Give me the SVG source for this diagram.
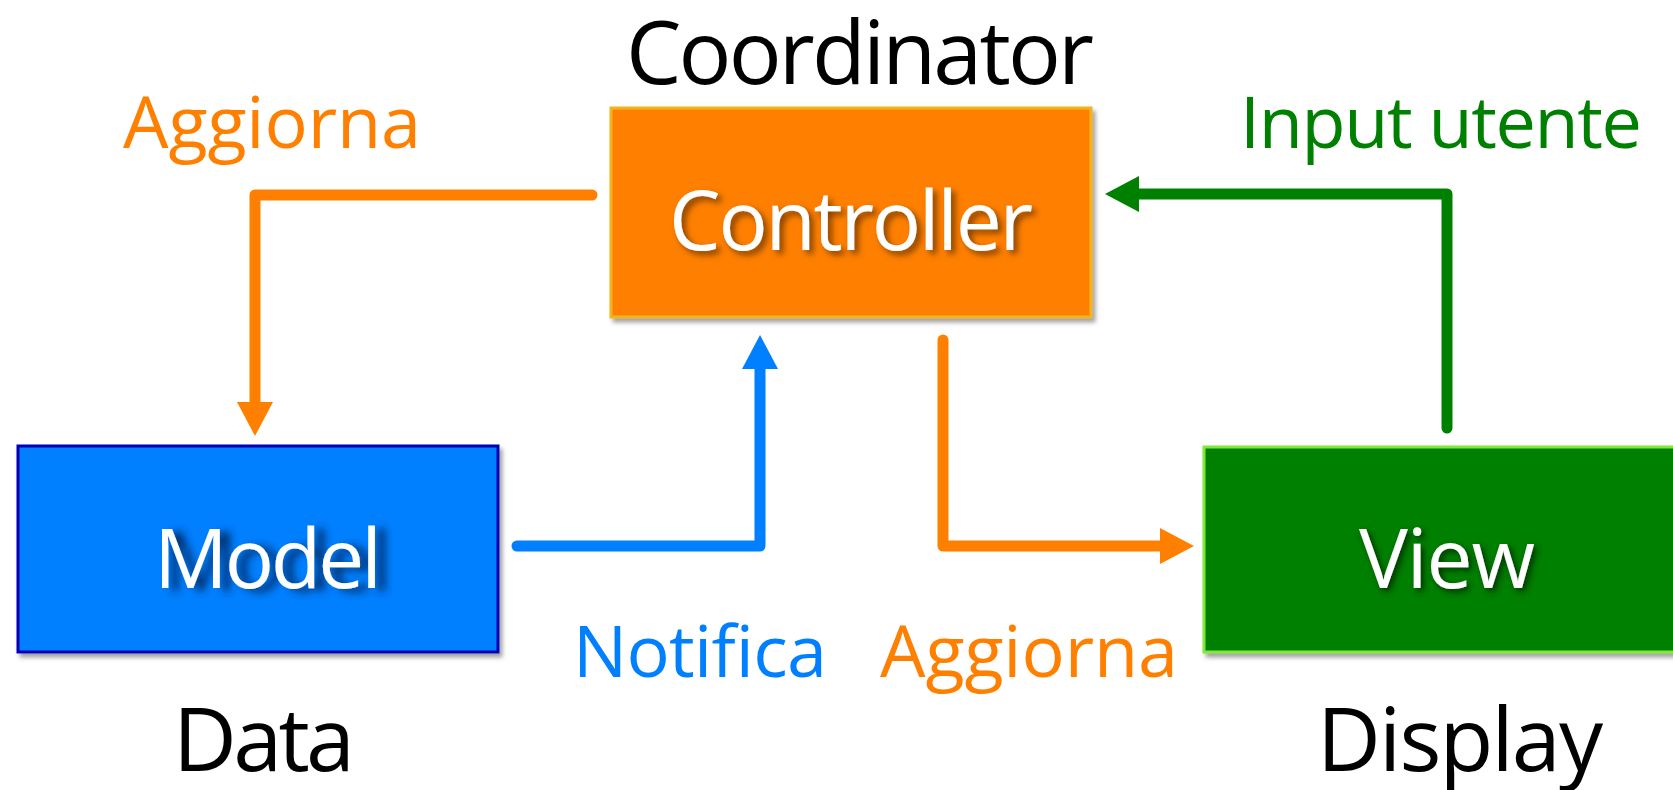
<svg xmlns="http://www.w3.org/2000/svg" width="1673" height="790" viewBox="0 0 1673 790">
  <style>
    text { font-family: "Open Sans", "Noto Sans", "DejaVu Sans", sans-serif; text-anchor: middle; }
    .caption { fill: #000000; font-size: 88px; }
    .label { font-size: 72px; }
    .node-text { fill: #ffffff; font-size: 82px; }
    .link { fill: none; stroke-width: 11; stroke-linecap: round; stroke-linejoin: round; }
  </style>
  <defs>
    <filter id="boxShadow" x="-5%" y="-5%" width="115%" height="120%">
      <feDropShadow dx="3" dy="4" stdDeviation="2" flood-color="#555555" flood-opacity="0.55"/>
    </filter>
    <filter id="glowOrange" x="-10%" y="-20%" width="130%" height="150%">
      <feDropShadow dx="4" dy="4" stdDeviation="3" flood-color="#7a3c00" flood-opacity="0.95"/>
    </filter>
    <filter id="glowBlue" x="-10%" y="-20%" width="130%" height="150%">
      <feDropShadow dx="10" dy="3" stdDeviation="4" flood-color="#002a66" flood-opacity="1"/>
    </filter>
    <filter id="glowGreen" x="-10%" y="-20%" width="130%" height="150%">
      <feDropShadow dx="3" dy="3" stdDeviation="3" flood-color="#002a00" flood-opacity="0.95"/>
    </filter>
    <marker id="arrowOrange" viewBox="0 0 34 36" refX="0" refY="18" markerWidth="34" markerHeight="36" markerUnits="userSpaceOnUse" orient="auto">
      <path d="M0,0 L34,18 L0,36 Z" fill="#ff8000"/>
    </marker>
    <marker id="arrowBlue" viewBox="0 0 34 36" refX="0" refY="18" markerWidth="34" markerHeight="36" markerUnits="userSpaceOnUse" orient="auto">
      <path d="M0,0 L34,18 L0,36 Z" fill="#0080ff"/>
    </marker>
    <marker id="arrowGreen" viewBox="0 0 34 36" refX="0" refY="18" markerWidth="34" markerHeight="36" markerUnits="userSpaceOnUse" orient="auto">
      <path d="M0,0 L34,18 L0,36 Z" fill="#008000"/>
    </marker>
  </defs>

  <rect width="1673" height="790" fill="#ffffff"/>

  <!-- Captions -->
  <text class="caption" x="860" y="84" textLength="468">Coordinator</text>
  <text class="caption" x="264" y="771" textLength="182">Data</text>
  <text class="caption" x="1460" y="771" textLength="286">Display</text>

  <!-- Edge labels -->
  <text class="label" x="272" y="148" fill="#ff8000" textLength="298">Aggiorna</text>
  <text class="label" x="1441" y="148" fill="#008000" textLength="402">Input utente</text>
  <text class="label" x="700" y="677" fill="#0080ff" textLength="254">Notifica</text>
  <text class="label" x="1029" y="677" fill="#ff8000" textLength="298">Aggiorna</text>

  <!-- Connectors -->
  <g id="connectors">
    <path class="link" stroke="#ff8000" d="M592,195 L255,195 L255,402" marker-end="url(#arrowOrange)"/>
    <path class="link" stroke="#0080ff" d="M517,546 L760,546 L760,369" marker-end="url(#arrowBlue)"/>
    <path class="link" stroke="#ff8000" d="M943,340 L943,546 L1160,546" marker-end="url(#arrowOrange)"/>
    <path class="link" stroke="#008000" d="M1447,428 L1447,194 L1139,194" marker-end="url(#arrowGreen)"/>
  </g>

  <!-- Controller -->
  <g id="controller">
    <rect x="611" y="108" width="480" height="209" fill="#ff8000" stroke="#f0b41e" stroke-width="3" filter="url(#boxShadow)"/>
    <text class="node-text" x="851" y="250" textLength="364" filter="url(#glowOrange)">Controller</text>
  </g>

  <!-- Model -->
  <g id="model">
    <rect x="18" y="446" width="480" height="206" fill="#0080ff" stroke="#0000b4" stroke-width="3" filter="url(#boxShadow)"/>
    <text class="node-text" x="268" y="588" textLength="228" filter="url(#glowBlue)">Model</text>
  </g>

  <!-- View -->
  <g id="view">
    <rect x="1204" y="447" width="480" height="205" fill="#008000" stroke="#7ee83a" stroke-width="3" filter="url(#boxShadow)"/>
    <text class="node-text" x="1447" y="588" textLength="176" filter="url(#glowGreen)">View</text>
  </g>
</svg>
